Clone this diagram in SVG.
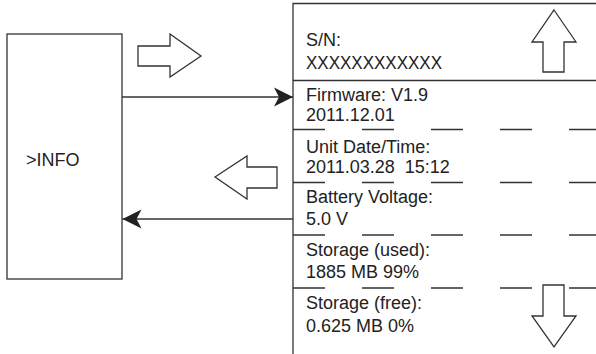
<svg xmlns="http://www.w3.org/2000/svg" width="596" height="354" viewBox="0 0 596 354">
<style>
.ln{stroke:#333;stroke-width:1.3;fill:none}
.bx{stroke:#333;stroke-width:1.3;fill:#fff}
.dash{stroke:#333;stroke-width:1.3;fill:none;stroke-dasharray:32 37}
.t{font-family:"Liberation Sans",Arial,sans-serif;font-size:18px;fill:#222;white-space:pre}
</style>
<defs>
<marker id="ah" markerUnits="userSpaceOnUse" markerWidth="20" markerHeight="20" viewBox="0 0 20 20" refX="19" refY="10" orient="auto">
<path d="M0,0.5 L19,10 L0,19.5 L5,10 z" fill="#222"/>
</marker>
</defs>
<rect width="596" height="354" fill="#fff"/>
<g id="info">
<rect class="bx" x="7" y="34" width="115" height="245"/>
<text class="t" x="26" y="166">&gt;INFO</text>
</g>
<g id="arrow-right">
<polygon class="bx" points="138,46 170,46 170,34 201,56 170,77 170,66 138,66"/>
</g>
<g id="arrow-left">
<polygon class="bx" points="215,177 247,156 247,167 277,167 277,188 247,188 247,199"/>
</g>
<g id="panel">
<path class="ln" d="M293,354 V3.5 H596 M293,80.5 H596"/>
<path class="dash" d="M293,129.5 H596 M293,182.5 H596 M293,235 H596 M293,288 H596"/>
<text class="t" x="306" y="46">S/N:</text>
<text class="t" x="306" y="69" textLength="136" lengthAdjust="spacingAndGlyphs">XXXXXXXXXXXX</text>
<text class="t" x="306" y="101">Firmware: V1.9</text>
<text class="t" x="306" y="121">2011.12.01</text>
<text class="t" x="306" y="153">Unit Date/Time:</text>
<text class="t" x="306" y="173" xml:space="preserve">2011.03.28  15:12</text>
<text class="t" x="306" y="203">Battery Voltage:</text>
<text class="t" x="306" y="225">5.0 V</text>
<text class="t" x="306" y="256">Storage (used):</text>
<text class="t" x="306" y="278">1885 MB 99%</text>
<text class="t" x="306" y="309">Storage (free):</text>
<text class="t" x="306" y="332">0.625 MB 0%</text>
</g>
<g id="arrow-up">
<polygon class="bx" points="554,10 576,42 564,42 564,72 543,72 543,42 532,42"/>
</g>
<g id="arrow-down">
<polygon class="bx" points="543,285 564,285 564,316 576,316 554,347 532,316 543,316"/>
</g>
<g id="connectors">
<line class="ln" x1="122" y1="97" x2="293" y2="97" marker-end="url(#ah)"/>
<line class="ln" x1="293" y1="219" x2="122.5" y2="219" marker-end="url(#ah)"/>
</g>
</svg>
